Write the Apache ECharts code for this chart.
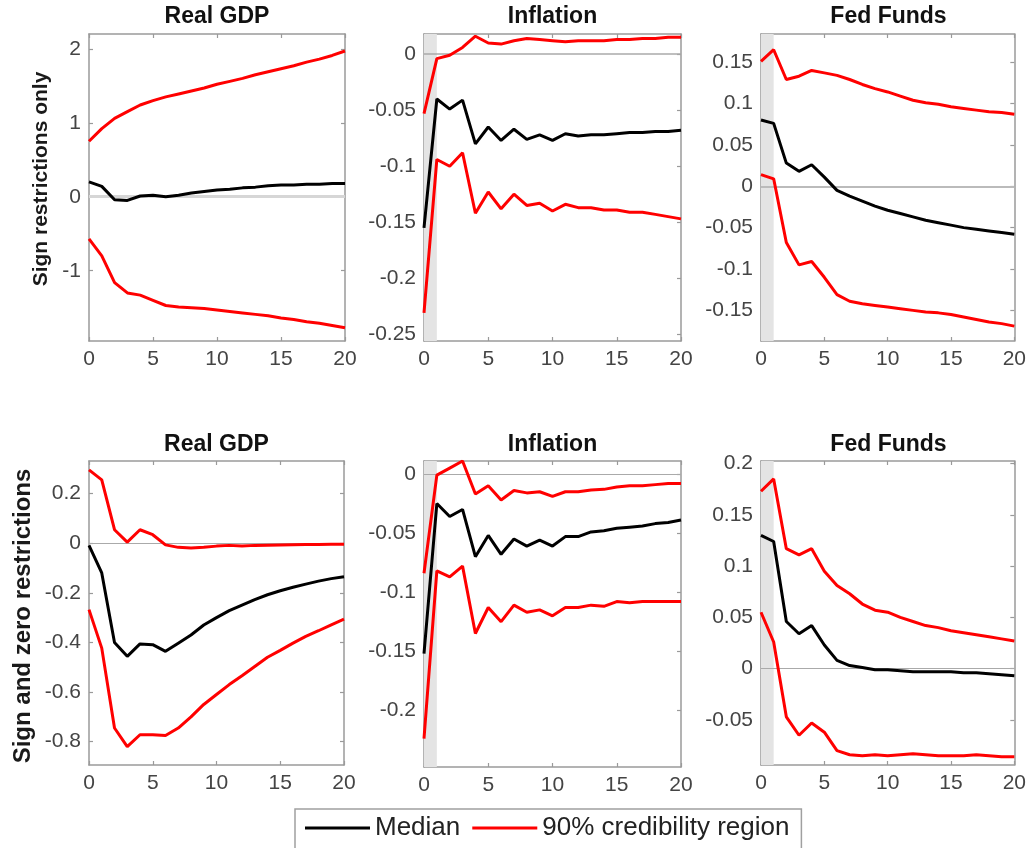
<!DOCTYPE html>
<html><head><meta charset="utf-8">
<script src="https://cdn.jsdelivr.net/npm/echarts@6/dist/echarts.min.js"></script>
<style>html,body{margin:0;padding:0;background:#fff}#c{width:1029px;height:848px}</style>
</head><body><div id="c"></div>
<script>
const horizons = [0,1,2,3,4,5,6,7,8,9,10,11,12,13,14,15,16,17,18,19,20];
const xTicks = [0,5,10,15,20];
const panelTitles = ['Real GDP','Inflation','Fed Funds','Real GDP','Inflation','Fed Funds'];
const rowLabels = ['Sign restrictions only','Sign and zero restrictions'];
const legendNames = ['Median','90% credibility region'];

// Row 1: sign restrictions only
const gdp1Hi  = [0.75,0.92,1.06,1.15,1.24,1.30,1.35,1.39,1.43,1.47,1.52,1.56,1.60,1.65,1.69,1.73,1.77,1.82,1.86,1.91,1.97];
const gdp1Med = [0.20,0.14,-0.04,-0.05,0.01,0.02,0.00,0.02,0.05,0.07,0.09,0.10,0.12,0.13,0.15,0.16,0.16,0.17,0.17,0.18,0.18];
const gdp1Lo  = [-0.57,-0.80,-1.16,-1.30,-1.33,-1.40,-1.47,-1.49,-1.50,-1.51,-1.53,-1.55,-1.57,-1.59,-1.61,-1.64,-1.66,-1.69,-1.71,-1.74,-1.77];

const inf1Hi  = [-0.053,-0.004,-0.001,0.006,0.016,0.010,0.009,0.012,0.014,0.013,0.012,0.011,0.012,0.012,0.012,0.013,0.013,0.014,0.014,0.015,0.015];
const inf1Med = [-0.155,-0.040,-0.049,-0.041,-0.080,-0.065,-0.077,-0.067,-0.076,-0.072,-0.077,-0.071,-0.073,-0.072,-0.072,-0.071,-0.070,-0.070,-0.069,-0.069,-0.068];
const inf1Lo  = [-0.231,-0.094,-0.100,-0.088,-0.142,-0.123,-0.138,-0.125,-0.135,-0.133,-0.140,-0.134,-0.137,-0.137,-0.139,-0.139,-0.141,-0.141,-0.143,-0.145,-0.147];

const ff1Hi  = [0.151,0.165,0.129,0.133,0.140,0.137,0.134,0.129,0.123,0.118,0.114,0.109,0.104,0.101,0.099,0.096,0.094,0.092,0.090,0.089,0.087];
const ff1Med = [0.080,0.076,0.028,0.018,0.026,0.011,-0.005,-0.012,-0.018,-0.024,-0.029,-0.033,-0.037,-0.041,-0.044,-0.047,-0.050,-0.052,-0.054,-0.056,-0.058];
const ff1Lo  = [0.014,0.009,-0.068,-0.095,-0.091,-0.110,-0.131,-0.139,-0.142,-0.144,-0.146,-0.148,-0.150,-0.152,-0.153,-0.155,-0.158,-0.161,-0.164,-0.166,-0.169];

// Row 2: sign and zero restrictions
const gdp2Hi  = [0.295,0.255,0.054,0.004,0.054,0.034,-0.007,-0.017,-0.020,-0.017,-0.012,-0.009,-0.012,-0.009,-0.008,-0.007,-0.006,-0.005,-0.005,-0.004,-0.004];
const gdp2Med = [-0.009,-0.12,-0.40,-0.456,-0.406,-0.409,-0.436,-0.403,-0.37,-0.33,-0.30,-0.272,-0.25,-0.228,-0.208,-0.192,-0.178,-0.165,-0.153,-0.143,-0.135];
const gdp2Lo  = [-0.268,-0.423,-0.745,-0.82,-0.772,-0.772,-0.775,-0.745,-0.70,-0.65,-0.61,-0.57,-0.534,-0.497,-0.46,-0.432,-0.403,-0.376,-0.353,-0.329,-0.306];

const inf2Hi  = [-0.084,-0.001,0.005,0.011,-0.017,-0.010,-0.022,-0.014,-0.016,-0.015,-0.019,-0.015,-0.015,-0.0135,-0.013,-0.011,-0.010,-0.010,-0.009,-0.008,-0.008];
const inf2Med = [-0.152,-0.025,-0.036,-0.030,-0.070,-0.052,-0.068,-0.055,-0.061,-0.056,-0.061,-0.053,-0.053,-0.049,-0.048,-0.046,-0.045,-0.044,-0.042,-0.041,-0.039];
const inf2Lo  = [-0.224,-0.082,-0.087,-0.078,-0.135,-0.113,-0.125,-0.111,-0.117,-0.115,-0.120,-0.113,-0.113,-0.111,-0.112,-0.108,-0.109,-0.108,-0.108,-0.108,-0.108];

const ff2Hi  = [0.173,0.185,0.117,0.111,0.117,0.095,0.081,0.073,0.063,0.057,0.055,0.050,0.046,0.042,0.040,0.037,0.035,0.033,0.031,0.029,0.027];
const ff2Med = [0.130,0.124,0.046,0.034,0.042,0.023,0.008,0.003,0.001,-0.001,-0.001,-0.002,-0.003,-0.003,-0.003,-0.003,-0.004,-0.004,-0.005,-0.006,-0.007];
const ff2Lo  = [0.055,0.026,-0.047,-0.065,-0.053,-0.062,-0.080,-0.084,-0.085,-0.084,-0.085,-0.084,-0.083,-0.084,-0.085,-0.085,-0.085,-0.084,-0.085,-0.086,-0.086];

// y-axis tick labels per panel
const gdp1Ticks = [-1,0,1,2];
const inf1Ticks = [-0.25,-0.2,-0.15,-0.1,-0.05,0];
const ff1Ticks  = [-0.15,-0.1,-0.05,0,0.05,0.1,0.15];
const gdp2Ticks = [-0.8,-0.6,-0.4,-0.2,0,0.2];
const inf2Ticks = [-0.2,-0.15,-0.1,-0.05,0];
const ff2Ticks  = [-0.05,0,0.05,0.1,0.15,0.2];
// y-axis ranges
const yRanges = [[-1.95,2.2],[-0.256,0.018],[-0.187,0.184],[-0.894,0.331],[-0.248,0.011],[-0.094,0.2025]];
// shaded sign-restriction horizon
const bandRange = [0,1];

const panels = [
  {hi:gdp1Hi, med:gdp1Med, lo:gdp1Lo, ticks:gdp1Ticks},
  {hi:inf1Hi, med:inf1Med, lo:inf1Lo, ticks:inf1Ticks},
  {hi:ff1Hi,  med:ff1Med,  lo:ff1Lo,  ticks:ff1Ticks},
  {hi:gdp2Hi, med:gdp2Med, lo:gdp2Lo, ticks:gdp2Ticks},
  {hi:inf2Hi, med:inf2Med, lo:inf2Lo, ticks:inf2Ticks},
  {hi:ff2Hi,  med:ff2Med,  lo:ff2Lo,  ticks:ff2Ticks}
];

// layout / style (not data)
const grids = [
  {left:89, top:34, width:256, height:307},
  {left:424,top:34, width:257, height:307},
  {left:761,top:34, width:255, height:307},
  {left:89, top:461,width:255, height:304},
  {left:424,top:461,width:257, height:306},
  {left:761,top:461,width:255, height:304}
];
const showBand = [false,true,true,false,true,true];
const zeroStyle = [
  {color:'#d6d6d6', width:3},
  {color:'#aaaaaa', width:1.5},
  {color:'#bbbbbb', width:2},
  {color:'#aaaaaa', width:1},
  {color:'#aaaaaa', width:1},
  {color:'#aaaaaa', width:1}
];
const FONT = '"Liberation Sans", Arial, Helvetica, sans-serif';
const AXC = '#9a9a9a';
const RED = '#ff0000';
const BLK = '#000000';

const pairs = (ys) => horizons.map((h,i)=>[h, ys[i]]);

const option = {
  animation:false,
  backgroundColor:'#fff',
  textStyle:{fontFamily:FONT},
  title:[], grid:[], xAxis:[], yAxis:[], series:[],
  legend:{
    data:legendNames,
    left:295, top:809,
    padding:[6,12,20,10],
    icon:'rect',
    itemGap:12, itemWidth:65, itemHeight:3,
    borderColor:'#a0a0a0', borderWidth:1.5, backgroundColor:'#fff',
    textStyle:{fontSize:26, color:'#222', fontFamily:FONT},
    selectedMode:false
  },
  graphic:[
    {type:'text', x:41, y:179, rotation:Math.PI/2,
     style:{text:rowLabels[0], font:'bold 21px '+FONT, fill:'#1a1a1a', textAlign:'center', textVerticalAlign:'middle'}},
    {type:'text', x:23, y:616, rotation:Math.PI/2,
     style:{text:rowLabels[1], font:'bold 24px '+FONT, fill:'#1a1a1a', textAlign:'center', textVerticalAlign:'middle'}}
  ]
};

panels.forEach((p,i)=>{
  const g = grids[i];
  option.grid.push({left:g.left, top:g.top, width:g.width, height:g.height, containLabel:false});
  option.title.push({
    text:panelTitles[i], left:g.left+g.width/2, top:(i<3?5:433), textAlign:'center', padding:0,
    textStyle:{fontSize:23, fontWeight:'bold', color:'#111', fontFamily:FONT}
  });
  const axLine = {show:true, onZero:false, lineStyle:{color:AXC, width:1.5}};
  const tick = (vals)=>({show:true, inside:true, length:4, lineStyle:{color:AXC, width:1.2}, customValues:vals});
  option.xAxis.push({
    type:'value', gridIndex:i, min:0, max:20, position:'bottom',
    axisLine:axLine, axisTick:tick(xTicks), splitLine:{show:false},
    axisLabel:{customValues:xTicks, fontSize:21, color:'#444', margin:8, fontFamily:FONT}
  });
  option.xAxis.push({
    type:'value', gridIndex:i, min:0, max:20, position:'top',
    axisLine:axLine, axisTick:tick(xTicks), splitLine:{show:false}, axisLabel:{show:false}
  });
  const yr = yRanges[i];
  option.yAxis.push({
    type:'value', gridIndex:i, min:yr[0], max:yr[1], position:'left',
    axisLine:axLine, axisTick:tick(p.ticks), splitLine:{show:false},
    axisLabel:{customValues:p.ticks, fontSize:21, color:'#444', margin:8, fontFamily:FONT}
  });
  option.yAxis.push({
    type:'value', gridIndex:i, min:yr[0], max:yr[1], position:'right',
    axisLine:axLine, axisTick:tick(p.ticks), splitLine:{show:false}, axisLabel:{show:false}
  });
  const markArea = showBand[i] ? {
    silent:true, z:1, itemStyle:{color:'#e4e4e4'},
    data:[[{xAxis:bandRange[0]},{xAxis:bandRange[1]}]]
  } : undefined;
  option.series.push({
    name:legendNames[1], type:'line', xAxisIndex:2*i, yAxisIndex:2*i,
    data:pairs(p.hi), symbol:'none', z:3, lineStyle:{color:RED, width:3}, itemStyle:{color:RED},
    markArea:markArea,
    markLine:{silent:true, z:2, symbol:'none', label:{show:false},
      lineStyle:{color:zeroStyle[i].color, width:zeroStyle[i].width, type:'solid'},
      data:[{yAxis:0}]}
  });
  option.series.push({
    name:legendNames[1], type:'line', xAxisIndex:2*i, yAxisIndex:2*i,
    data:pairs(p.lo), symbol:'none', z:3, lineStyle:{color:RED, width:3}, itemStyle:{color:RED}
  });
  option.series.push({
    name:legendNames[0], type:'line', xAxisIndex:2*i, yAxisIndex:2*i,
    data:pairs(p.med), symbol:'none', z:4, lineStyle:{color:BLK, width:3}, itemStyle:{color:BLK}
  });
});

const chart = echarts.init(document.getElementById('c'), null, {renderer:'canvas'});
chart.setOption(option);
</script>
</body></html>
